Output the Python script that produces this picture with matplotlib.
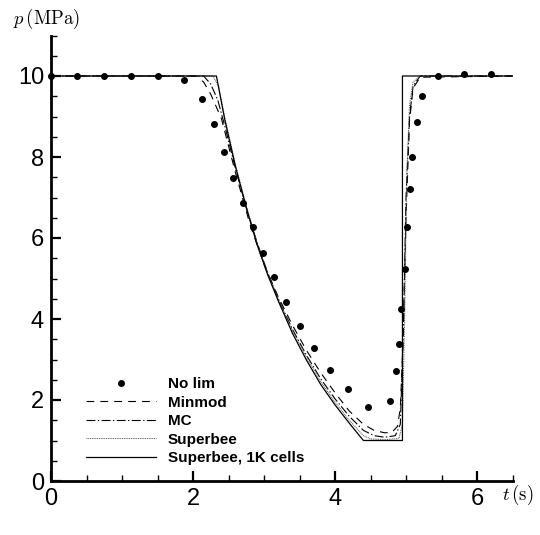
import matplotlib
matplotlib.use("Agg")
import matplotlib.pyplot as plt
from matplotlib.ticker import MultipleLocator

# ---- data ----
nolim_t = [0.0, 0.37, 0.75, 1.12, 1.50, 1.88, 2.13, 2.29, 2.44, 2.57, 2.70, 2.84,
           2.99, 3.14, 3.31, 3.50, 3.70, 3.93, 4.18, 4.47, 4.78, 4.86, 4.90, 4.93,
           4.98, 5.02, 5.06, 5.09, 5.15, 5.23, 5.45, 5.82, 6.20]
nolim_p = [10.0, 10.0, 10.0, 10.0, 10.0, 9.90, 9.42, 8.81, 8.12, 7.49, 6.86, 6.28,
           5.62, 5.03, 4.43, 3.83, 3.28, 2.74, 2.26, 1.83, 1.97, 2.71, 3.38, 4.25,
           5.23, 6.26, 7.21, 8.00, 8.86, 9.51, 10.0, 10.04, 10.04]

minmod_t = [0.0, 2.05, 2.15, 2.25, 2.40, 2.60, 2.80, 3.00, 3.20, 3.40, 3.60, 3.80,
            4.00, 4.20, 4.40, 4.55, 4.70, 4.80, 4.88, 4.92, 4.96, 5.00, 5.05, 5.10,
            5.20, 6.50]
minmod_p = [10.0, 10.0, 9.85, 9.55, 8.95, 7.60, 6.35, 5.35, 4.55, 3.85, 3.22, 2.67,
            2.18, 1.73, 1.40, 1.25, 1.19, 1.20, 1.35, 1.80, 3.50, 6.50, 8.90, 9.70,
            9.97, 10.0]

mc_t = [0.0, 2.15, 2.25, 2.35, 2.45, 2.60, 2.75, 2.90, 3.05, 3.20, 3.40, 3.60, 3.80,
        4.00, 4.20, 4.40, 4.55, 4.70, 4.85, 4.92, 4.96, 5.00, 5.05, 5.10, 5.20, 6.50]
mc_p = [10.0, 10.0, 9.80, 9.40, 8.75, 7.70, 6.75, 5.90, 5.15, 4.50, 3.75, 3.10, 2.52,
        2.03, 1.60, 1.25, 1.12, 1.08, 1.12, 1.40, 3.50, 7.00, 9.00, 9.75, 10.0, 10.0]

sb_t = [0.0, 2.28, 2.36, 2.45, 2.60, 2.75, 2.90, 3.05, 3.20, 3.40, 3.60, 3.80, 4.00,
        4.20, 4.40, 4.50, 4.70, 4.90, 4.95, 4.98, 5.01, 5.05, 5.10, 5.20, 6.50]
sb_p = [10.0, 10.0, 9.75, 8.95, 7.80, 6.80, 5.90, 5.15, 4.50, 3.72, 3.05, 2.45, 1.95,
        1.50, 1.12, 1.04, 1.02, 1.05, 1.40, 4.00, 7.50, 9.30, 9.85, 10.0, 10.0]

sb1k_t = [0.0, 2.33, 2.45, 2.60, 2.75, 2.90, 3.05, 3.20, 3.40, 3.60, 3.80, 4.00,
          4.20, 4.40, 4.95, 4.95, 6.50]
sb1k_p = [10.0, 10.0, 8.90, 7.75, 6.75, 5.85, 5.10, 4.45, 3.65, 2.98, 2.38, 1.88,
          1.43, 1.00, 1.00, 10.0, 10.0]

labels = ["No lim", "Minmod", "MC", "Superbee", "Superbee, 1K cells"]
xticks = [0, 2, 4, 6]
yticks = [0, 2, 4, 6, 8, 10]

# ---- figure ----
W, H = 540, 535
plt.rcParams["mathtext.fontset"] = "cm"
fig = plt.figure(figsize=(W / 100, H / 100), dpi=100)
ax = fig.add_axes([51 / W, 1 - 481 / H, (512.5 - 51) / W, (481 - 35.5) / H])

ax.plot(nolim_t, nolim_p, linestyle="none", marker="o", markersize=4,
        color="black", label=labels[0], zorder=5, clip_on=False)
ax.plot(minmod_t, minmod_p, color="black", lw=0.8, dashes=(7, 5.5), label=labels[1])
ax.plot(mc_t, mc_p, color="black", lw=0.8, dashes=(8, 2.2, 1.2, 2.2), label=labels[2])
ax.plot(sb_t, sb_p, color="#555555", lw=0.8, dashes=(0.8, 0.8), label=labels[3])
ax.plot(sb1k_t, sb1k_p, color="black", lw=0.9, label=labels[4])

ax.set_xlim(0, 6.5)
ax.set_ylim(0, 11)
ax.set_xticks(xticks)
ax.set_yticks(yticks)
ax.xaxis.set_minor_locator(MultipleLocator(0.5))
ax.yaxis.set_minor_locator(MultipleLocator(0.5))

for s in ["top", "right"]:
    ax.spines[s].set_visible(False)
for s in ["left", "bottom"]:
    ax.spines[s].set_linewidth(2.0)

ax.tick_params(which="major", direction="in", length=7.5, width=1.6,
               labelsize=17, pad=5)
ax.tick_params(which="minor", direction="in", length=4, width=1.0)
for lab in ax.get_xticklabels() + ax.get_yticklabels():
    lab.set_fontfamily("Liberation Sans")

leg = ax.legend(loc="lower left", bbox_to_anchor=(0.076, 0.035), frameon=False,
                prop={"family": "Liberation Sans", "weight": "bold", "size": 11},
                handlelength=4.6, handletextpad=0.75, labelspacing=0.30,
                borderaxespad=0, borderpad=0)

fig.text(13 / W, 1 - 19 / H, r"$p\,(\mathrm{MPa})$", ha="left", va="center",
         fontsize=13.5)
fig.text(534 / W, 1 - 495 / H, r"$t\,(\mathrm{s})$", ha="right", va="center",
         fontsize=13.5)

fig.savefig("out.png", dpi=100)
